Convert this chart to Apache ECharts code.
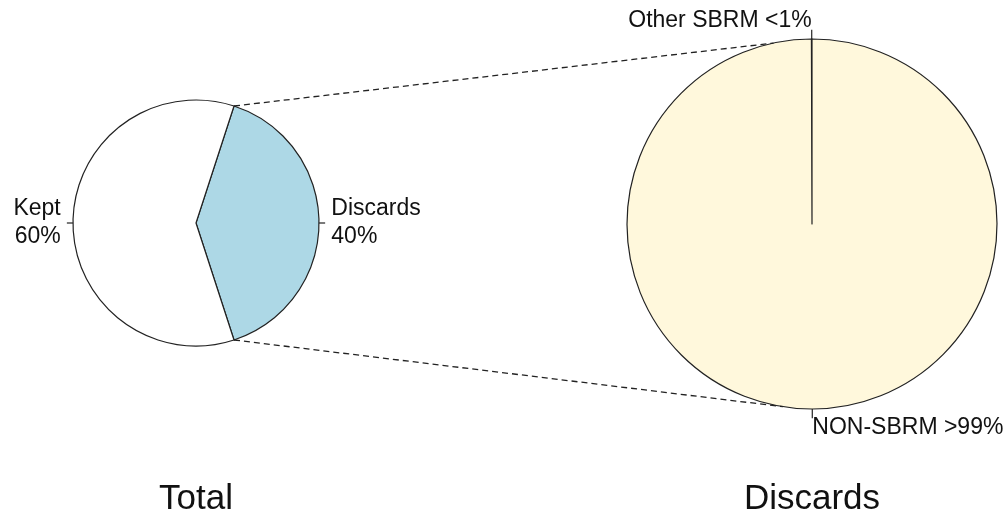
<!DOCTYPE html>
<html>
<head>
<meta charset="utf-8">
<script src="https://cdn.jsdelivr.net/npm/echarts@6/dist/echarts.min.js"></script>
<style>
html,body{margin:0;padding:0;background:#fff;}
#chart{width:1005px;height:519px;}
</style>
</head>
<body>
<div id="chart"></div>
<script>
// ---- data ----
const leftCategories = ['Discards', 'Kept'];
const leftValues = [40, 60];
const leftLabels = ['40%', '60%'];
const rightCategories = ['Other SBRM', 'NON-SBRM'];
const rightValues = [0.05, 99.95];
const rightLabels = ['<1%', '>99%'];
const titles = ['Total', 'Discards'];

// ---- geometry / style ----
const FONT = '"Liberation Sans", Arial, Helvetica, sans-serif';
const PIES = [
  {cx: 196, cy: 223, r: 123, start: -72, values: leftValues, cats: leftCategories, labs: leftLabels,
   colors: ['#ADD8E6', '#FFFFFF'], sep: '\n'},
  {cx: 812, cy: 224, r: 185, start: 90, values: rightValues, cats: rightCategories, labs: rightLabels,
   colors: ['#FFF8DC', '#FFF8DC'], sep: ' '}
];
const CONNECT_RIGHT_ANGLES = [102, 261]; // where dashed zoom lines meet the right pie

function midAngle(p, i) {
  const tot = p.values.reduce((a, b) => a + b, 0);
  let cum = 0;
  for (let j = 0; j < i; j++) cum += p.values[j];
  return p.start + (cum + p.values[i] / 2) / tot * 360;
}
function pt(p, ang, k) {
  const a = ang * Math.PI / 180;
  return [p.cx + k * p.r * Math.cos(a), p.cy - k * p.r * Math.sin(a)];
}

const series = PIES.map((p, si) => ({
  type: 'pie',
  center: [p.cx, p.cy],
  radius: p.r,
  startAngle: p.start,
  clockwise: false,
  avoidLabelOverlap: false,
  silent: true,
  animation: false,
  itemStyle: {borderColor: '#222', borderWidth: 1.2},
  data: p.cats.map((c, i) => ({name: c, value: p.values[i], itemStyle: {color: p.colors[i]}})),
  label: {
    show: true,
    position: 'outside',
    formatter: (prm) => p.cats[prm.dataIndex] + p.sep + p.labs[prm.dataIndex],
    fontSize: 23,
    lineHeight: 28,
    color: '#111',
    fontFamily: FONT
  },
  labelLine: {show: true, length: 6, length2: 0, smooth: false, lineStyle: {color: '#222', width: 1.2}},
  labelLayout: (prm) => {
    const ang = midAngle(p, prm.dataIndex);
    const c = Math.cos(ang * Math.PI / 180);
    const t = pt(p, ang, 1.1);
    return {
      x: t[0], y: t[1],
      align: c < 0 ? 'right' : 'left',
      verticalAlign: 'middle',
      labelLinePoints: [pt(p, ang, 1.0), pt(p, ang, 1.05)]
    };
  }
}));

// dashed connectors from the Discards slice edges of the left pie to the right pie
const L = PIES[0], R = PIES[1];
const dTot = L.values.reduce((a, b) => a + b, 0);
const edgeAngles = [L.start + L.values[0] / dTot * 360, L.start];
const graphics = edgeAngles.map((ea, k) => {
  const a = pt(L, ea, 1), b = pt(R, CONNECT_RIGHT_ANGLES[k], 1);
  return {type: 'line', silent: true, z: 10,
    shape: {x1: a[0], y1: a[1], x2: b[0], y2: b[1]},
    style: {stroke: '#222', lineWidth: 1.3, lineDash: [6, 4]}};
});
titles.forEach((t, i) => {
  graphics.push({type: 'text', x: PIES[i].cx, y: 499, silent: true,
    style: {text: t, fontSize: 35, fontFamily: FONT, fill: '#111', align: 'center', verticalAlign: 'middle'}});
});

const chart = echarts.init(document.getElementById('chart'), null, {renderer: 'canvas'});
chart.setOption({
  backgroundColor: '#fff',
  animation: false,
  series: series,
  graphic: graphics
});
</script>
</body>
</html>
